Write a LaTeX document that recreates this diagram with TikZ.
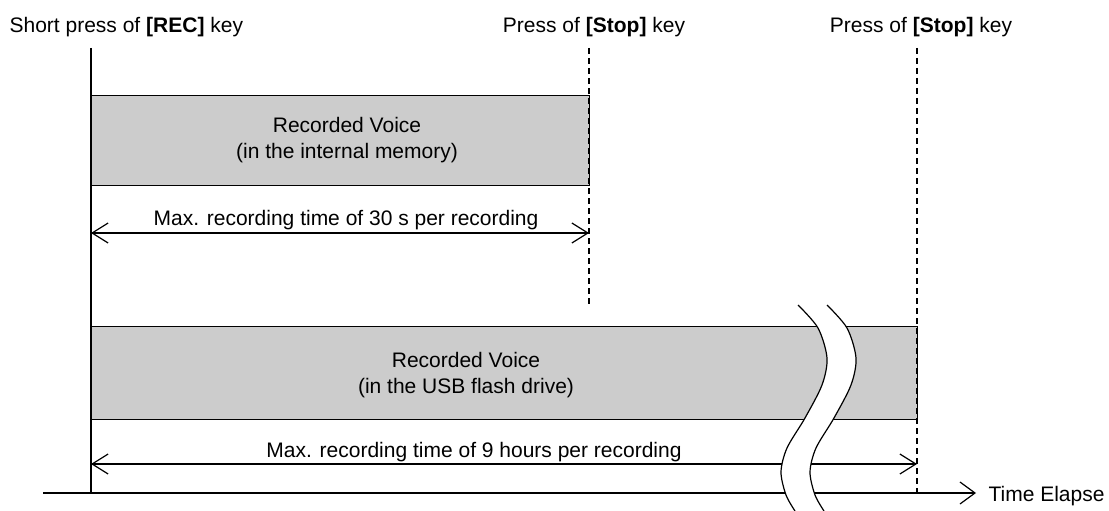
\documentclass[tikz,border=0pt]{standalone}
\usepackage{fontspec}
\setmainfont{Liberation Sans}
\usetikzlibrary{arrows.meta}
\definecolor{boxgray}{RGB}{204,204,204}
\begin{document}
\begin{tikzpicture}[x=1pt,y=-1pt, line width=1.2pt,
  lbl/.style={anchor=base, inner sep=0pt, font=\fontsize{21}{26}\selectfont},
  voicebox/.style={draw, fill=boxgray, inner sep=0pt, anchor=north west},
  barb/.style={Straight Barb[length=16pt,width=20pt,line width=1.2pt]},
  dimline/.style={{Straight Barb[length=16pt,width=20pt,line width=1.2pt]}-{Straight Barb[length=16pt,width=20pt,line width=1.2pt]}},
  stopline/.style={dash pattern=on 6pt off 4pt},
  breakline/.style={line width=1.2pt}]
\useasboundingbox (0,0) rectangle (1109,511);

% boxes
\node[voicebox, minimum width=498pt, minimum height=90pt] (mem) at (91,95) {};
\node[voicebox, minimum width=826pt, minimum height=93pt] (usb) at (91,326) {};

% key coordinates
\coordinate (recTop) at (91,48);
\coordinate (recBot) at (91,493);
\coordinate (stop1Top) at (589,48);
\coordinate (stop1Bot) at (589,305);
\coordinate (stop2Top) at (917,48);
\coordinate (stop2Bot) at (917,493);
\coordinate (a1L) at (91,233);
\coordinate (a1R) at (589,233);
\coordinate (a2L) at (91,464);
\coordinate (a2R) at (917,464);
\coordinate (axL) at (43,493);
\coordinate (axR) at (976,493);

% vertical markers
\draw (recTop) -- (recBot);
\draw[stopline] (stop1Top) -- (stop1Bot);
\draw[stopline] (stop2Top) -- (stop2Bot);

% dimension arrows
\draw[dimline] (a1L) -- (a1R);
\draw[dimline] (a2L) -- (a2R);

% time axis
\draw[-{Straight Barb[length=15pt,width=22pt,line width=1.2pt]}] (axL) -- (axR);

% break mark
\fill[white] plot[smooth] coordinates {(798,305) (818,328) (827,358) (822,385) (805,418) (787,448) (781,472) (786,495) (795,511)}
  -- plot[smooth] coordinates {(824,511) (815,495) (810,472) (816,448) (834,418) (851,385) (856,358) (847,328) (827,305)} -- cycle;
\draw[breakline] plot[smooth] coordinates {(798,305) (818,328) (827,358) (822,385) (805,418) (787,448) (781,472) (786,495) (795,511)};
\draw[breakline] plot[smooth] coordinates {(827,305) (847,328) (856,358) (851,385) (834,418) (816,448) (810,472) (815,495) (824,511)};

% labels
\node[lbl, anchor=base west] (recLbl) at (9,33) {Short press of \textbf{[REC]} key};
\node[lbl] (stop1Lbl) at (594,33) {Press of \textbf{[Stop]} key};
\node[lbl] (stop2Lbl) at (921,33) {Press of \textbf{[Stop]} key};

\node[lbl] (memT1) at (347,132) {Recorded Voice};
\node[lbl] (memT2) at (347,158) {(in the internal memory)};
\node[lbl] (a1Lbl) at (346,225) {Max. recording time of 30 s per recording};

\node[lbl] (usbT1) at (466,367) {Recorded Voice};
\node[lbl] (usbT2) at (466,393) {(in the USB flash drive)};
\node[lbl] (a2Lbl) at (474,457) {Max. recording time of 9 hours per recording};

\node[lbl, anchor=base west] (axLbl) at (988,501) {Time Elapse};
\end{tikzpicture}
\end{document}
